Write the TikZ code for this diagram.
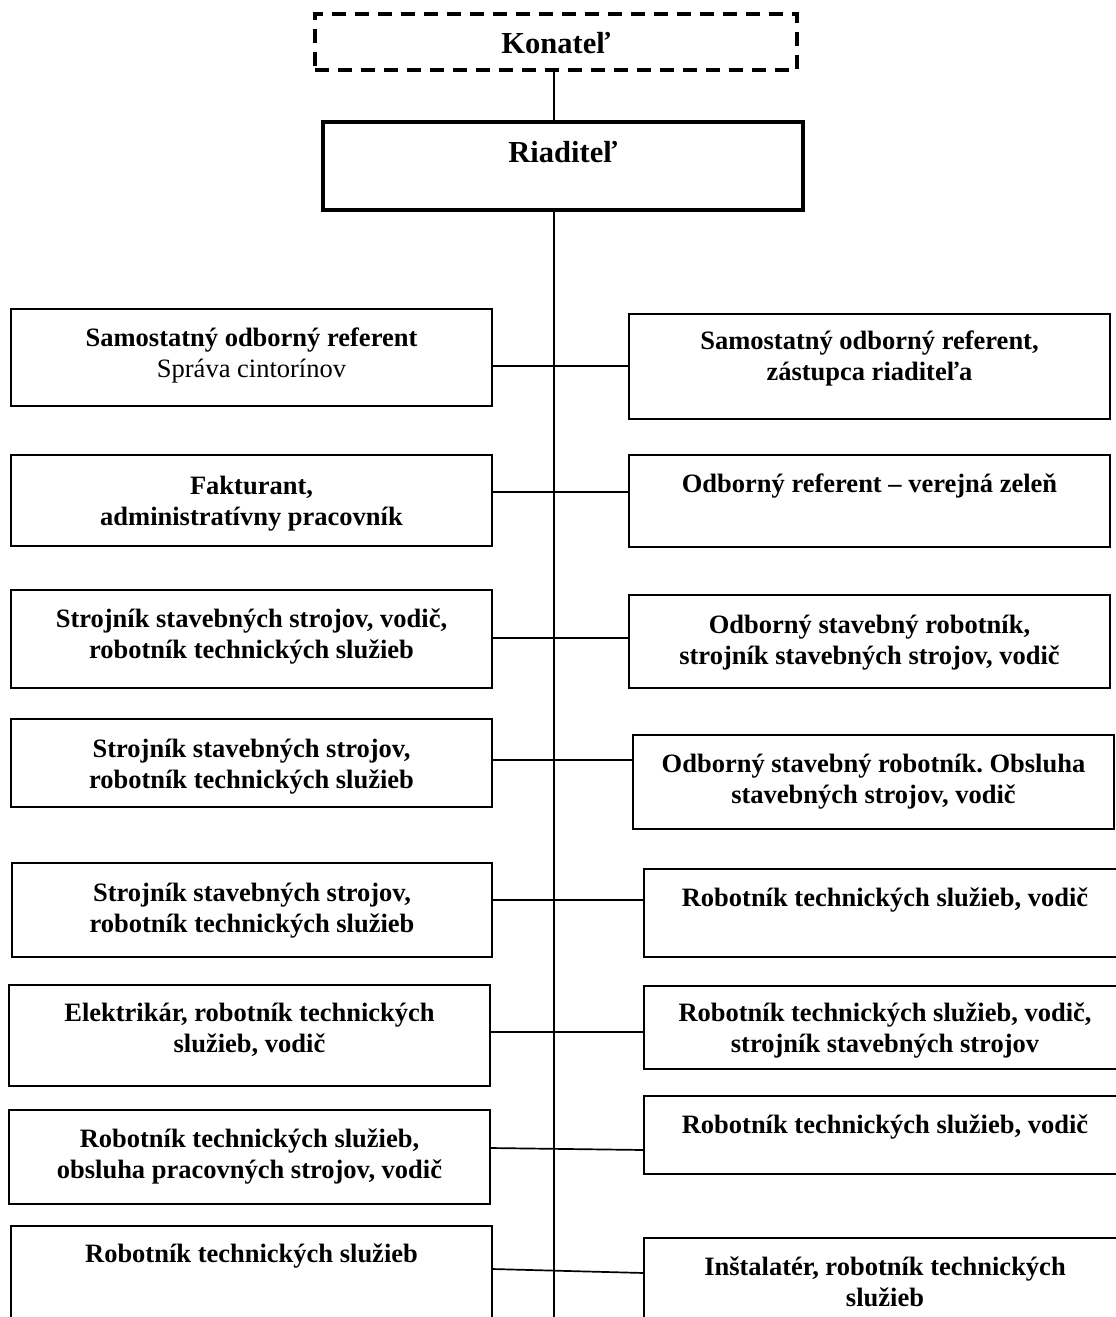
\documentclass[tikz,border=0pt]{standalone}
\usepackage{fontspec}
\setmainfont{Liberation Serif}
\frenchspacing
\begin{document}
\begin{tikzpicture}[x=1pt,y=-1pt]
\tikzset{
  box/.style={draw, line width=1.8pt, inner sep=0pt, outer sep=0pt},
  txt/.style={font=\bfseries\fontsize{26.5}{30.5}\selectfont, align=center, inner sep=0pt, anchor=north, execute at begin node={\rule{0pt}{22pt}}},
  ttl/.style={font=\bfseries\fontsize{30.5}{34}\selectfont, inner sep=0pt, anchor=base},
  conn/.style={line width=1.7pt},
}
\useasboundingbox (0,0) rectangle (1116,1317);
\clip (0,0) rectangle (1116,1317);
\fill[white] (0,0) rectangle (1116,1317);

% top boxes
\node[box, line width=3.2pt, dash pattern=on 14pt off 9pt, minimum width=482pt, minimum height=56pt] (K) at (556,42) {};
\node[box, line width=3.2pt, minimum width=480pt, minimum height=88pt] (Rd) at (563,166) {};
\node[ttl] (Kt) at (K.center |- 0,53) {Konateľ};
\node[ttl] (Rdt) at (Rd.center |- 0,162) {Riaditeľ};

% left column
\node[box, minimum width=481pt, minimum height=97pt] (L1) at (251.5,357.5) {};
\node[box, minimum width=481pt, minimum height=91pt] (L2) at (251.5,500.5) {};
\node[box, minimum width=481pt, minimum height=98pt] (L3) at (251.5,639) {};
\node[box, minimum width=481pt, minimum height=88pt] (L4) at (251.5,763) {};
\node[box, minimum width=480pt, minimum height=94pt] (L5) at (252,910) {};
\node[box, minimum width=481pt, minimum height=101pt] (L6) at (249.5,1035.5) {};
\node[box, minimum width=481pt, minimum height=94pt] (L7) at (249.5,1157) {};
\node[box, minimum width=481pt, minimum height=110pt] (L8) at (251.5,1281) {};

% right column
\node[box, minimum width=481pt, minimum height=105pt] (R1) at (869.5,366.5) {};
\node[box, minimum width=481pt, minimum height=92pt] (R2) at (869.5,501) {};
\node[box, minimum width=481pt, minimum height=93pt] (R3) at (869.5,641.5) {};
\node[box, minimum width=481pt, minimum height=94pt] (R4) at (873.5,782) {};
\node[box, minimum width=482pt, minimum height=88pt] (R5) at (885,913) {};
\node[box, minimum width=482pt, minimum height=83pt] (R6) at (885,1027.5) {};
\node[box, minimum width=482pt, minimum height=78pt] (R7) at (885,1135) {};
\node[box, minimum width=482pt, minimum height=100pt] (R8) at (885,1288) {};

% texts left
\node[txt] (L1t) at (L1.center |- 0,328) {Samostatný odborný referent\\{\mdseries Správa cintorínov}};
\node[txt] (L2t) at (L2.center |- 0,476) {Fakturant,\\administratívny pracovník};
\node[txt] (L3t) at (L3.center |- 0,609) {Strojník stavebných strojov, vodič,\\robotník technických služieb};
\node[txt] (L4t) at (L4.center |- 0,739) {Strojník stavebných strojov,\\robotník technických služieb};
\node[txt] (L5t) at (L5.center |- 0,883) {Strojník stavebných strojov,\\robotník technických služieb};
\node[txt] (L6t) at (L6.center |- 0,1003) {Elektrikár, robotník technických\\služieb, vodič};
\node[txt] (L7t) at (L7.center |- 0,1129) {Robotník technických služieb,\\obsluha pracovných strojov, vodič};
\node[txt] (L8t) at (L8.center |- 0,1240) {Robotník technických služieb};

% texts right
\node[txt] (R1t) at (R1.center |- 0,331) {Samostatný odborný referent,\\zástupca riaditeľa};
\node[txt] (R2t) at (R2.center |- 0,470) {Odborný referent – verejná zeleň};
\node[txt] (R3t) at (R3.center |- 0,615) {Odborný stavebný robotník,\\strojník stavebných strojov, vodič};
\node[txt] (R4t) at (R4.center |- 0,754) {Odborný stavebný robotník. Obsluha\\stavebných strojov, vodič};
\node[txt] (R5t) at (R5.center |- 0,884) {Robotník technických služieb, vodič};
\node[txt] (R6t) at (R6.center |- 0,1003) {Robotník technických služieb, vodič,\\strojník stavebných strojov};
\node[txt] (R7t) at (R7.center |- 0,1111) {Robotník technických služieb, vodič};
\node[txt] (R8t) at (R8.center |- 0,1257) {Inštalatér, robotník technických\\služieb};

% main vertical line
\coordinate (V) at (554,0);
\coordinate (Vend) at (554,1330);
\draw[line width=1.9pt] (V |- K.south) -- (V |- Rd.north);
\draw[line width=1.9pt] (V |- Rd.south) -- (Vend);

% horizontal connectors
\draw[conn] (L1.east |- 0,366) -- (R1.west |- 0,366);
\draw[conn] (L2.east |- 0,492) -- (R2.west |- 0,492);
\draw[conn] (L3.east |- 0,638) -- (R3.west |- 0,638);
\draw[conn] (L4.east |- 0,760) -- (R4.west |- 0,760);
\draw[conn] (L5.east |- 0,900) -- (R5.west |- 0,900);
\draw[conn] (L6.east |- 0,1032) -- (R6.west |- 0,1032);
\draw[conn] (L7.east |- 0,1148) -- (R7.west |- 0,1150);
\draw[conn] (L8.east |- 0,1269) -- (R8.west |- 0,1273);
\end{tikzpicture}
\end{document}
